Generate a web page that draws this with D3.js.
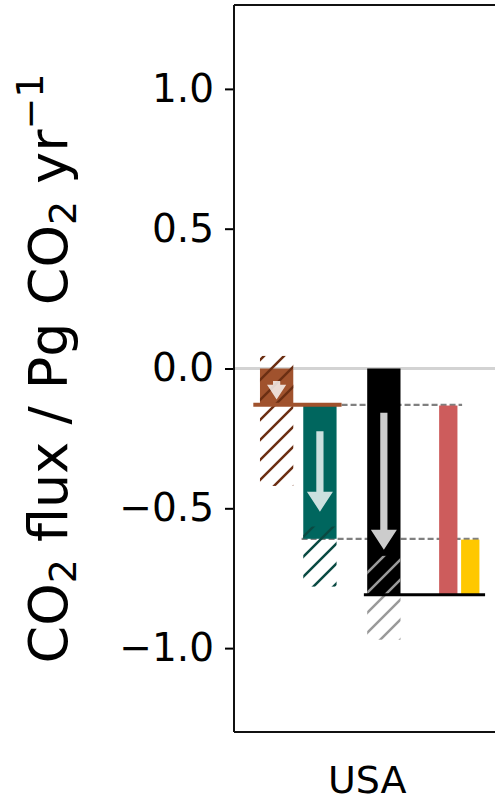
<!DOCTYPE html>
<html>
<head>
<meta charset="utf-8">
<script src="https://cdn.jsdelivr.net/npm/d3@7"></script>
<style>
  body { margin: 0; background: #fff; }
  svg { display: block; font-family: "DejaVu Sans", sans-serif; }
</style>
</head>
<body>
<div id="chart"></div>
<script>
// data --------------------------------------------------------------
var categories = ["USA"];
var yTicks = [-1.0, -0.5, 0.0, 0.5, 1.0];

// stacked pieces: brown, teal, black, red, yellow
var pieceTop    = [0.0, -0.130, 0.0, -0.1325, -0.612];
var pieceBottom = [-0.130, -0.609, -0.809, -0.809, -0.809];

// hatched ranges for the first three pieces
var hatchTop    = [0.045, -0.565, -0.67];
var hatchBottom = [-0.42, -0.78, -0.97];

// arrows inside the first three pieces
var arrowFrom = [-0.045, -0.224, -0.158];
var arrowTo   = [-0.111, -0.512, -0.648];

// reference lines
var dashedLevels = [-0.130, -0.609];
var brownLevel = -0.130;
var blackLevel = -0.809;

// layout / style -------------------------------------------------------
var W = 495, H = 801;
var margin = {left: 234, top: 5, bottom: 69};

var colors = ["#a0522d", "#00665e", "#000000", "#cd5c5c", "#ffc800"];
var hatchColors = ["#6b2e12", "#0a4a42", "#9a9a9a"];

// bar slots in category units (category centre = 0)
var slotLeft  = [-0.322, -0.192, 0.0, 0.216, 0.282];
var slotWidth = [0.1, 0.1, 0.1, 0.055, 0.055];
var dashedSpan = [[-0.077, 0.285], [-0.197, 0.339]];
var brownSpan = [-0.342, -0.077];
var blackSpan = [-0.01, 0.354];

var xScale = d3.scaleLinear().domain([-0.4, 0.4]).range([margin.left, margin.left + 0.8 * 333]);
var yScale = d3.scaleLinear().domain([-1.3, 1.3]).range([H - margin.bottom, margin.top]);

var svg = d3.select("#chart").append("svg")
  .attr("width", W)
  .attr("height", H);

// hatch patterns
var defs = svg.append("defs");
hatchColors.forEach(function(c, i){
  var p = defs.append("pattern")
    .attr("id", "hatch" + i)
    .attr("patternUnits", "userSpaceOnUse")
    .attr("width", 20)
    .attr("height", 20);
  p.append("path")
    .attr("d", "M0,20 L20,0 M-5,5 L5,-5 M15,25 L25,15")
    .attr("stroke", c)
    .attr("stroke-width", 2.5)
    .attr("fill", "none");
});

// zero line
svg.append("line")
  .attr("x1", xScale(-0.4)).attr("x2", W)
  .attr("y1", yScale(0)).attr("y2", yScale(0))
  .attr("stroke", "#d3d3d3")
  .attr("stroke-width", 3);

// dashed guide lines
svg.append("g").selectAll("line")
  .data(dashedLevels)
  .enter().append("line")
  .attr("x1", function(d, i){ return xScale(dashedSpan[i][0]); })
  .attr("x2", function(d, i){ return xScale(dashedSpan[i][1]); })
  .attr("y1", function(d){ return yScale(d); })
  .attr("y2", function(d){ return yScale(d); })
  .attr("stroke", "#808080")
  .attr("stroke-width", 2.2)
  .attr("stroke-dasharray", "6,3");

// bars
svg.append("g").selectAll("rect")
  .data(pieceTop)
  .enter().append("rect")
  .attr("x", function(d, i){ return xScale(slotLeft[i]); })
  .attr("width", function(d, i){ return xScale(slotLeft[i] + slotWidth[i]) - xScale(slotLeft[i]); })
  .attr("y", function(d){ return yScale(d); })
  .attr("height", function(d, i){ return yScale(pieceBottom[i]) - yScale(d); })
  .attr("fill", function(d, i){ return colors[i]; });

// hatched uncertainty ranges
svg.append("g").selectAll("rect")
  .data(hatchTop)
  .enter().append("rect")
  .attr("x", function(d, i){ return xScale(slotLeft[i]); })
  .attr("width", function(d, i){ return xScale(slotLeft[i] + slotWidth[i]) - xScale(slotLeft[i]); })
  .attr("y", function(d){ return yScale(d); })
  .attr("height", function(d, i){ return yScale(hatchBottom[i]) - yScale(d); })
  .attr("fill", function(d, i){ return "url(#hatch" + i + ")"; });

// arrows
var arrowPath = function(d, i){
  var cx = xScale(slotLeft[i] + slotWidth[i] / 2);
  var y0 = yScale(arrowFrom[i]), y1 = yScale(arrowTo[i]);
  var len = y1 - y0;
  var hl = Math.min(20, 0.8 * len);
  var hw = hl * 1.3 / 2;
  var sw = 3.6;
  return "M" + (cx - sw) + "," + y0 +
         "L" + (cx + sw) + "," + y0 +
         "L" + (cx + sw) + "," + (y1 - hl) +
         "L" + (cx + hw) + "," + (y1 - hl) +
         "L" + cx + "," + y1 +
         "L" + (cx - hw) + "," + (y1 - hl) +
         "L" + (cx - sw) + "," + (y1 - hl) + "Z";
};
svg.append("g").selectAll("path")
  .data(arrowFrom)
  .enter().append("path")
  .attr("d", arrowPath)
  .attr("fill", "#ffffff")
  .attr("fill-opacity", 0.8);

// solid level lines
svg.append("line")
  .attr("x1", xScale(brownSpan[0])).attr("x2", xScale(brownSpan[1]))
  .attr("y1", yScale(brownLevel)).attr("y2", yScale(brownLevel))
  .attr("stroke", colors[0])
  .attr("stroke-width", 4);
svg.append("line")
  .attr("x1", xScale(blackSpan[0])).attr("x2", xScale(blackSpan[1]))
  .attr("y1", yScale(blackLevel)).attr("y2", yScale(blackLevel))
  .attr("stroke", "#000")
  .attr("stroke-width", 3);

// axes
var yAxis = d3.axisLeft(yScale)
  .tickValues(yTicks)
  .tickFormat(d3.format(".1f"))
  .tickSize(9)
  .tickPadding(11);
var yG = svg.append("g")
  .attr("transform", "translate(" + margin.left + ",0)")
  .call(yAxis);
yG.select(".domain").remove();
yG.selectAll(".tick line").attr("stroke", "#000").attr("stroke-width", 2);
yG.selectAll(".tick text")
  .attr("font-size", 39)
  .attr("font-family", "DejaVu Sans")
  .attr("fill", "#000");

// spines
var frame = svg.append("g")
  .attr("fill", "none")
  .attr("stroke", "#111")
  .attr("stroke-width", 2);
frame.append("line")
  .attr("x1", margin.left).attr("x2", margin.left)
  .attr("y1", yScale(1.3)).attr("y2", yScale(-1.3));
frame.append("line")
  .attr("x1", margin.left).attr("x2", W + 10)
  .attr("y1", yScale(1.3)).attr("y2", yScale(1.3));
frame.append("line")
  .attr("x1", margin.left).attr("x2", W + 10)
  .attr("y1", yScale(-1.3)).attr("y2", yScale(-1.3));

// category label
svg.append("g").selectAll("text")
  .data(categories)
  .enter().append("text")
  .attr("x", function(){ return xScale(0); })
  .attr("y", 793)
  .attr("text-anchor", "middle")
  .attr("font-size", 38)
  .attr("fill", "#000")
  .text(function(d){ return d; });

// y label
var yLab = svg.append("text")
  .attr("transform", "translate(67," + ((yScale(1.3) + yScale(-1.3)) / 2) + ") rotate(-90)")
  .attr("text-anchor", "middle")
  .attr("font-size", 54)
  .attr("fill", "#000");
yLab.append("tspan").text("CO");
yLab.append("tspan").attr("font-size", 38).attr("dy", 9).text("2");
yLab.append("tspan").attr("dy", -9).text(" flux / Pg CO");
yLab.append("tspan").attr("font-size", 38).attr("dy", 9).text("2");
yLab.append("tspan").attr("dy", -9).text(" yr");
yLab.append("tspan").attr("font-size", 38).attr("dy", -24).text("\u22121");
</script>
</body>
</html>
